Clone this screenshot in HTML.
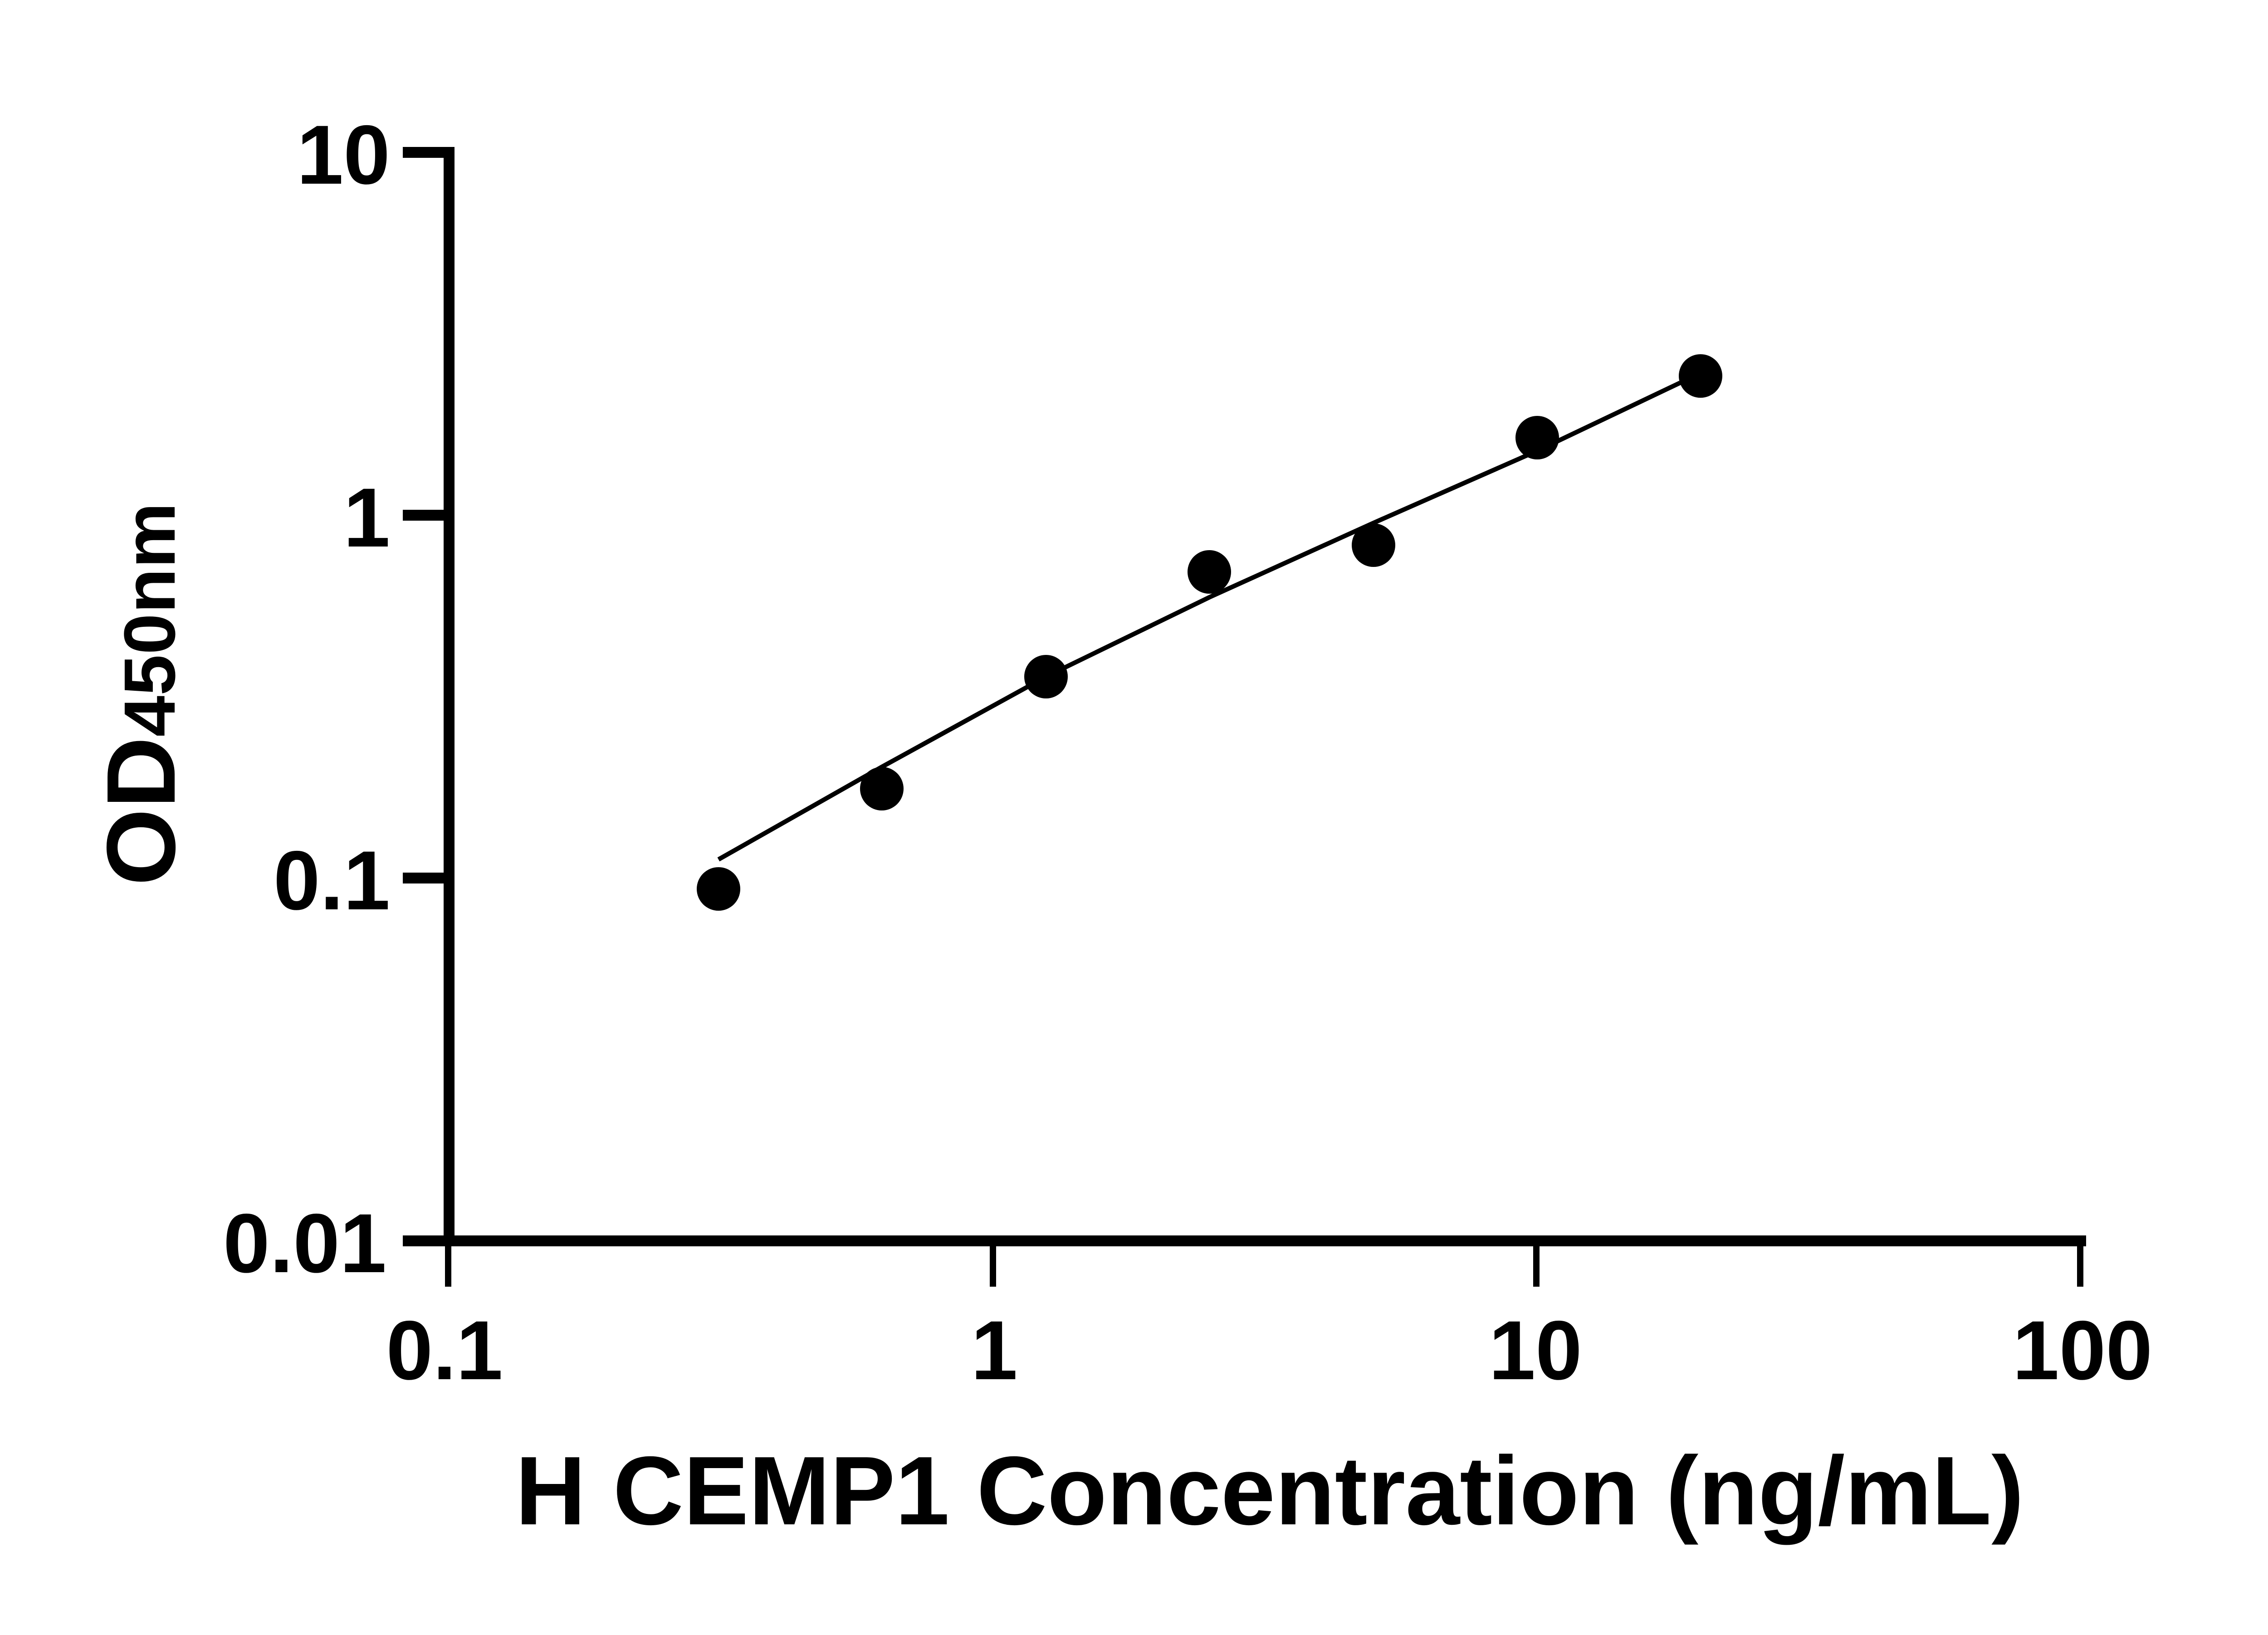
<!DOCTYPE html>
<html><head><meta charset="utf-8"><style>html,body{margin:0;padding:0;background:#fff}</style></head>
<body>
<svg width="5142" height="3600" viewBox="0 0 5142 3600" xmlns="http://www.w3.org/2000/svg" font-family="Liberation Sans, Arial, sans-serif" font-weight="bold">
<rect width="5142" height="3600" fill="#fff"/>
<g stroke="#000" stroke-width="24" fill="none">
<line x1="990" y1="324" x2="990" y2="2748"/>
<line x1="978" y1="2736" x2="4599" y2="2736"/>
<line x1="888" y1="336" x2="1002" y2="336"/>
<line x1="888" y1="1136" x2="990" y2="1136"/>
<line x1="888" y1="1936" x2="990" y2="1936"/>
<line x1="888" y1="2736" x2="990" y2="2736"/>
</g>
<g stroke="#000" stroke-width="14">
<line x1="988" y1="2736" x2="988" y2="2837"/>
<line x1="2189" y1="2736" x2="2189" y2="2837"/>
<line x1="3387" y1="2736" x2="3387" y2="2837"/>
<line x1="4586" y1="2736" x2="4586" y2="2837"/>
</g>
<g font-size="185" text-anchor="end" fill="#000">
<text x="860" y="405">10</text>
<text x="860" y="1205">1</text>
<text x="860" y="2005">0.1</text>
<text x="852" y="2805">0.01</text>
</g>
<g font-size="185" text-anchor="middle" fill="#000">
<text x="980" y="3041">0.1</text>
<text x="2192" y="3041">1</text>
<text x="3385" y="3041">10</text>
<text x="4591" y="3041">100</text>
</g>
<text x="1136" y="3361" font-size="215" textLength="3326" lengthAdjust="spacingAndGlyphs" fill="#000">H CEMP1 Concentration (ng/mL)</text>
<text transform="translate(385,1953) rotate(-90)" fill="#000" textLength="845" lengthAdjust="spacingAndGlyphs"><tspan font-size="215">OD</tspan><tspan font-size="160">450nm</tspan></text>
<polyline fill="none" stroke="#000" stroke-width="10" points="1584,1895 1944,1691 2306,1492 2666,1317 3028,1153 3389,994 3704,844"/>
<g fill="#000">
<circle cx="1584" cy="1960" r="48"/>
<circle cx="1944" cy="1739" r="48"/>
<circle cx="2306" cy="1492" r="48"/>
<circle cx="2666" cy="1261" r="48"/>
<circle cx="3028" cy="1202" r="48"/>
<circle cx="3389" cy="965" r="48"/>
<circle cx="3749" cy="829" r="48"/>
</g>
</svg>
</body></html>
